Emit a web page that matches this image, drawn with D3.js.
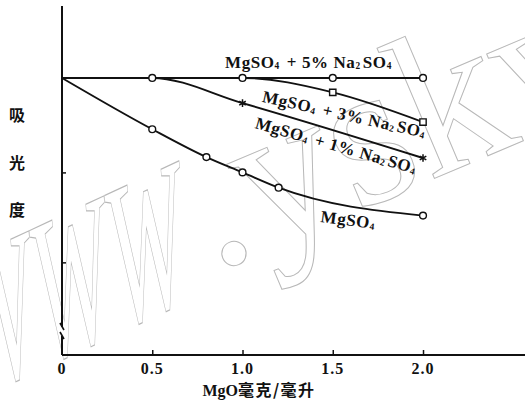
<!DOCTYPE html>
<html><head><meta charset="utf-8">
<script src="https://cdn.jsdelivr.net/npm/d3@7"></script>
<style>
body{margin:0;background:#fff;}
svg{display:block;}
</style></head>
<body>
<svg id="c" width="525" height="407"></svg>
<script>
// ---- data ----
const xTicks = [0, 0.5, 1.0, 1.5, 2.0];
const xTickLabels = ["0", "0.5", "1.0", "1.5", "2.0"];
const yTicks = [0.4, 0.5];

const mgso4X = [0, 0.5, 0.8, 1.0, 1.2, 2.0];
const mgso4Y = [0.605, 0.548, 0.517, 0.500, 0.483, 0.452];
const mgso4Marks = [0.5, 0.8, 1.0, 1.2, 2.0];

const na5X = [0, 0.5, 1.0, 1.5, 2.0];
const na5Y = [0.605, 0.605, 0.605, 0.605, 0.605];
const na5Marks = [0.5, 1.0, 1.5, 2.0];

const na3X = [0, 0.5, 1.0, 1.5, 2.0];
const na3Y = [0.605, 0.605, 0.605, 0.589, 0.556];
const na3Marks = [1.5, 2.0];

const na1X = [0, 0.5, 1.0, 2.0];
const na1Y = [0.605, 0.605, 0.577, 0.516];
const na1Marks = [1.0, 2.0];

const yLabel = ["吸", "光", "度"];
const xLabelLatin = "MgO";
const xLabelCJK = "毫克/毫升";
const watermarkA = "www";
const watermarkB = ".yskw";

// ---- drawing ----
const svg = d3.select("#c");
const x = d3.scaleLinear().domain([0, 2.565]).range([62, 525]);
const y = d3.scaleLinear().domain([0.297, 0.685]).range([355, 6]);
const serif = "'Liberation Serif','DejaVu Serif',serif";

// watermark (outlined)
const wm = svg.append("g").attr("fill", "none").attr("stroke", "#b8b8b8")
  .attr("font-family", serif);
wm.append("text")
  .attr("transform", "translate(-34,402) rotate(-25) skewX(-20) scale(0.41,1)")
  .attr("font-size", 280).attr("stroke-width", 1).attr("vector-effect", "non-scaling-stroke")
  .text(watermarkA);
wm.append("text")
  .attr("transform", "translate(214,272) rotate(-23)")
  .attr("font-size", 205).attr("stroke-width", 1)
  .text(watermarkB);

// axes
const axisW = 2;
svg.append("line").attr("x1", x(0)).attr("x2", 525).attr("y1", y.range()[0]).attr("y2", y.range()[0])
  .attr("stroke", "#111").attr("stroke-width", axisW);
// y axis with break
const yb1 = 327, yb2 = 336;
svg.append("line").attr("x1", x(0)).attr("x2", x(0)).attr("y1", y.range()[1]).attr("y2", yb1)
  .attr("stroke", "#111").attr("stroke-width", axisW);
svg.append("line").attr("x1", x(0)).attr("x2", x(0)).attr("y1", yb2).attr("y2", y.range()[0])
  .attr("stroke", "#111").attr("stroke-width", axisW);
[yb1, yb2].forEach(v => {
  svg.append("line").attr("x1", x(0) - 2).attr("x2", x(0) + 2).attr("y1", v - 4).attr("y2", v + 3)
    .attr("stroke", "#111").attr("stroke-width", 1.6);
});

const xAxis = d3.axisBottom(x).tickValues(xTicks.slice(1)).tickSize(-5).tickFormat("");
const gx = svg.append("g").attr("transform", `translate(0,${y.range()[0]})`).call(xAxis);
gx.select(".domain").remove();
gx.selectAll(".tick line").attr("stroke", "#111").attr("stroke-width", 1.5);

const yAxis = d3.axisLeft(y).tickValues(yTicks).tickSize(-4).tickFormat("");
const gy = svg.append("g").attr("transform", `translate(${x(0)},0)`).call(yAxis);
gy.select(".domain").remove();
gy.selectAll(".tick line").attr("stroke", "#111").attr("stroke-width", 1.5);

// tick labels
svg.selectAll("text.xt").data(xTicks).enter().append("text")
  .attr("x", d => x(d)).attr("y", y.range()[0] + 19)
  .attr("text-anchor", "middle")
  .attr("font-family", serif).attr("font-weight", "bold").attr("font-size", 16)
  .attr("letter-spacing", 1)
  .attr("fill", "#111")
  .text((d, i) => xTickLabels[i]);

// x label
const xl = svg.append("text").attr("x", 259).attr("y", 396).attr("text-anchor", "middle")
  .attr("fill", "#111").attr("font-weight", "bold");
xl.append("tspan").attr("font-family", serif).attr("font-size", 16).text(xLabelLatin);
xl.append("tspan").attr("font-family", "'Noto Sans CJK SC'").attr("font-size", 16)
  .attr("letter-spacing", 1.5).text(xLabelCJK);

// y label
svg.selectAll("text.yl").data(yLabel).enter().append("text")
  .attr("x", 17).attr("y", (d, i) => 121 + i * 47.5)
  .attr("text-anchor", "middle")
  .attr("font-family", "'Noto Sans CJK SC'").attr("font-weight", "bold").attr("font-size", 16)
  .attr("fill", "#111").text(d => d);

// lines
const line = d3.line().x(d => x(d[0])).y(d => y(d[1])).curve(d3.curveMonotoneX);
const series = [
  {xs: mgso4X, ys: mgso4Y},
  {xs: na1X, ys: na1Y},
  {xs: na3X, ys: na3Y},
  {xs: na5X, ys: na5Y},
];
series.forEach(s => {
  svg.append("path").datum(s.xs.map((v, i) => [v, s.ys[i]]))
    .attr("d", line).attr("fill", "none").attr("stroke", "#111").attr("stroke-width", 1.9);
});

function valAt(xs, ys, v) { return ys[xs.indexOf(v)]; }

// markers
function circles(xs, ys, marks) {
  svg.append("g").selectAll("circle").data(marks).enter().append("circle")
    .attr("cx", d => x(d)).attr("cy", d => y(valAt(xs, ys, d))).attr("r", 3.4)
    .attr("fill", "#fff").attr("stroke", "#111").attr("stroke-width", 1.4);
}
circles(mgso4X, mgso4Y, mgso4Marks);
circles(na5X, na5Y, na5Marks);
svg.append("g").selectAll("path").data(na3Marks).enter().append("path")
  .attr("transform", d => `translate(${x(d)},${y(valAt(na3X, na3Y, d))})`)
  .attr("d", d3.symbol(d3.symbolSquare, 40))
  .attr("fill", "#fff").attr("stroke", "#111").attr("stroke-width", 1.4);
svg.append("g").selectAll("path").data(na1Marks).enter().append("path")
  .attr("transform", d => `translate(${x(d)},${y(valAt(na1X, na1Y, d))})`)
  .attr("d", d3.symbol(d3.symbolAsterisk, 40))
  .attr("fill", "none").attr("stroke", "#111").attr("stroke-width", 1.5);

// series labels
function chemLabel(px, py, angle, parts, size) {
  const t = svg.append("text")
    .attr("transform", `translate(${px},${py}) rotate(${angle})`)
    .attr("font-family", serif).attr("font-weight", "bold").attr("font-size", size)
    .attr("letter-spacing", 0.6)
    .attr("fill", "#111");
  parts.forEach(p => {
    if (p.sub) {
      t.append("tspan").attr("font-size", size * 0.55).attr("dy", 1).text(p.t);
      t.append("tspan").attr("dy", -1).text("\u200A");
    } else {
      t.append("tspan").text(p.t);
    }
  });
}
const full = pct => [{t: "MgSO"}, {t: "4", sub: 1}, {t: ` + ${pct}% Na`}, {t: "2", sub: 1}, {t: "SO"}, {t: "4", sub: 1}];
chemLabel(x(0.903), y(0.616), 0, full(5), 17);
chemLabel(x(1.105), y(0.5785), 12.5, full(3), 17);
chemLabel(x(1.065), y(0.5495), 16, full(1), 17);
chemLabel(x(1.43), y(0.445), 7.5, [{t: "MgSO"}, {t: "4", sub: 1}], 17);
</script>
</body></html>
